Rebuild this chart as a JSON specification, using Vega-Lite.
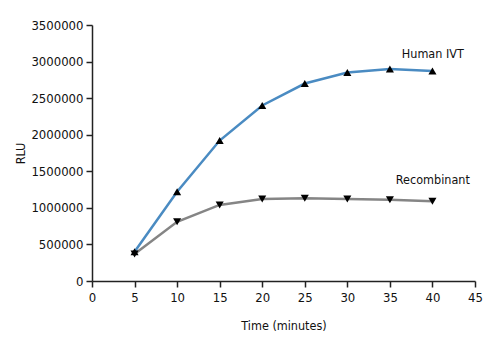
{
  "$schema": "https://vega.github.io/schema/vega-lite/v6.json",
  "autosize": {"type": "none"},
  "padding": {"left": 92, "top": 25, "right": 21, "bottom": 64},
  "width": 383,
  "height": 256,
  "config": {
    "view": {"stroke": null},
    "font": "DejaVu Sans Condensed, Liberation Sans, sans-serif",
    "axis": {
      "grid": false,
      "domainColor": "#222",
      "tickColor": "#222",
      "tickSize": 6,
      "labelFont": "DejaVu Sans Condensed, Liberation Sans, sans-serif",
      "titleFont": "DejaVu Sans Condensed, Liberation Sans, sans-serif",
      "labelFontSize": 13,
      "titleFontSize": 12.5,
      "titleFontWeight": "normal",
      "labelColor": "#111",
      "titleColor": "#111",
      "domainWidth": 1.5,
      "tickWidth": 1.5,
      "labelOverlap": false,
      "labelFlush": false
    }
  },
  "datasets": {
    "series": [
      {"time": 5, "rlu": 400000, "series": "Human IVT"},
      {"time": 10, "rlu": 1220000, "series": "Human IVT"},
      {"time": 15, "rlu": 1920000, "series": "Human IVT"},
      {"time": 20, "rlu": 2400000, "series": "Human IVT"},
      {"time": 25, "rlu": 2700000, "series": "Human IVT"},
      {"time": 30, "rlu": 2850000, "series": "Human IVT"},
      {"time": 35, "rlu": 2900000, "series": "Human IVT"},
      {"time": 40, "rlu": 2870000, "series": "Human IVT"},
      {"time": 5, "rlu": 370000, "series": "Recombinant"},
      {"time": 10, "rlu": 810000, "series": "Recombinant"},
      {"time": 15, "rlu": 1040000, "series": "Recombinant"},
      {"time": 20, "rlu": 1120000, "series": "Recombinant"},
      {"time": 25, "rlu": 1130000, "series": "Recombinant"},
      {"time": 30, "rlu": 1120000, "series": "Recombinant"},
      {"time": 35, "rlu": 1110000, "series": "Recombinant"},
      {"time": 40, "rlu": 1090000, "series": "Recombinant"}
    ],
    "labels": [
      {"time": 36.4, "rlu": 3100000, "label": "Human IVT"},
      {"time": 35.7, "rlu": 1380000, "label": "Recombinant"}
    ]
  },
  "encoding": {
    "x": {"field": "time", "type": "quantitative", "scale": {"domain": [0, 45], "nice": false}, "axis": {"values": [0,5,10,15,20,25,30,35,40,45], "title": "Time (minutes)", "titlePadding": 15, "labelPadding": 4, "labelOverlap": false}},
    "y": {"field": "rlu", "type": "quantitative", "scale": {"domain": [0, 3500000], "nice": false}, "axis": {"values": [0,500000,1000000,1500000,2000000,2500000,3000000,3500000], "format": "d", "title": "RLU", "titlePadding": 3, "labelPadding": 3, "labelOverlap": false}}
  },
  "layer": [
    {
      "data": {"name": "series"},
      "mark": {"type": "line", "interpolate": "linear", "strokeWidth": 2.5},
      "encoding": {
        "color": {"field": "series", "type": "nominal", "scale": {"domain": ["Human IVT", "Recombinant"], "range": ["#4a8bc2", "#858585"]}, "legend": null}
      }
    },
    {
      "data": {"name": "series"},
      "mark": {"type": "point", "filled": true, "opacity": 1, "color": "#000", "size": 65},
      "encoding": {
        "shape": {"field": "series", "type": "nominal", "scale": {"domain": ["Human IVT", "Recombinant"], "range": ["triangle-up", "triangle-down"]}, "legend": null}
      }
    },
    {
      "data": {"name": "labels"},
      "mark": {"type": "text", "align": "left", "baseline": "middle", "fontSize": 12.5, "color": "#111"},
      "encoding": {
        "text": {"field": "label"}
      }
    }
  ]
}
